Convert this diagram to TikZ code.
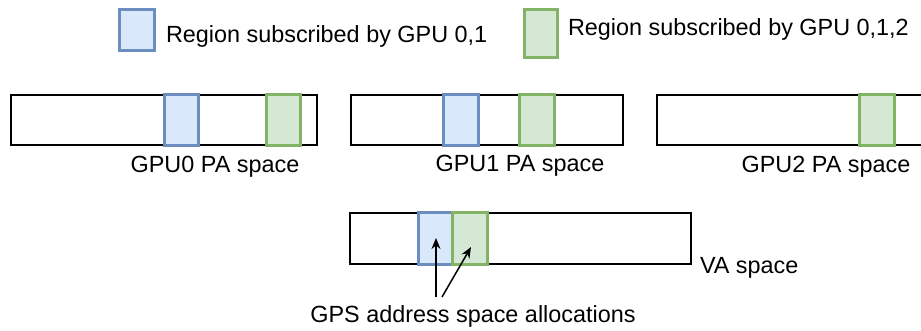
\documentclass[tikz,border=0pt]{standalone}
\usepackage{fontspec}
\setmainfont{Liberation Sans}
\usetikzlibrary{arrows.meta}
\definecolor{bluefill}{HTML}{DAE8FC}
\definecolor{bluedraw}{HTML}{6C8EBF}
\definecolor{greenfill}{HTML}{D5E8D4}
\definecolor{greendraw}{HTML}{82B366}
\begin{document}
\begin{tikzpicture}[x=1pt,y=-1pt,
  every node/.style={inner sep=0pt,outer sep=0pt,font=\fontsize{23.4}{28}\selectfont},
  space/.style={draw=black,line width=1.5pt,fill=white},
  bluereg/.style={draw=bluedraw,fill=bluefill,line width=3pt},
  greenreg/.style={draw=greendraw,fill=greenfill,line width=3pt},
  lbl/.style={anchor=base},
  ptr/.style={-{Stealth[length=11pt,width=9pt]},line width=1.5pt}]
\useasboundingbox (0,0) rectangle (921,330);
\clip (0,0) rectangle (921,330);

% legend
\draw[bluereg] (119,9) rectangle (154,50);
\node[anchor=base west] (legA) at (166,42) {Region subscribed by GPU 0,1};
\draw[greenreg] (524,9) rectangle (557,57);
\node[anchor=base west] (legB) at (568,35) {Region subscribed by GPU 0,1,2};

% GPU0 physical address space
\draw[space] (11,95) rectangle (317,145);
\draw[bluereg] (164,94) rectangle (198,145);
\draw[greenreg] (266,94) rectangle (300,145);
\node[lbl] (pa0) at (215,172) {GPU0 PA space};

% GPU1 physical address space
\draw[space] (351,95) rectangle (623,145);
\draw[bluereg] (443,94) rectangle (478,145);
\draw[greenreg] (519,94) rectangle (554,145);
\node[lbl] (pa1) at (520,171) {GPU1 PA space};

% GPU2 physical address space
\draw[space] (657,95) rectangle (960,145);
\draw[greenreg] (859,94) rectangle (894,145);
\node[lbl] (pa2) at (826,172) {GPU2 PA space};

% virtual address space
\draw[space] (350,213) rectangle (691,264);
\node[draw=bluedraw,fill=bluefill,line width=3pt,minimum width=34pt,minimum height=52pt,anchor=north west] (vaB) at (418,212) {};
\node[draw=greendraw,fill=greenfill,line width=3pt,minimum width=35pt,minimum height=52pt,anchor=north west] (vaG) at (452,212) {};
\node[anchor=base west] (va) at (700,273) {VA space};

% allocations and pointers
\node[lbl] (gps) at (473,322) {GPS address space allocations};
\coordinate (p1) at (436,297);
\coordinate (p2) at (442,297);
\coordinate (t1) at (436,238);
\coordinate (t2) at (471,247);
\draw[ptr] (p1) -- (t1);
\draw[ptr] (p2) -- (t2);
\end{tikzpicture}
\end{document}
